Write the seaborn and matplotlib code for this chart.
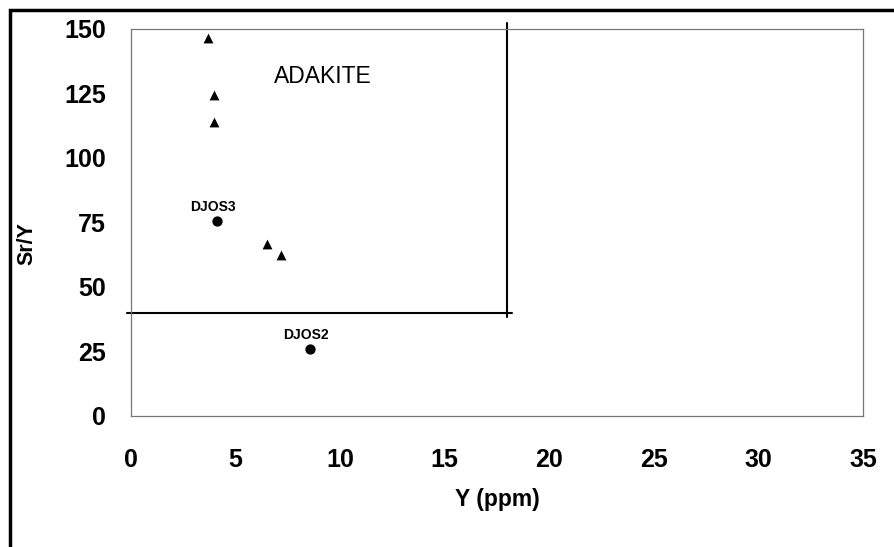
import pandas as pd
import seaborn as sns
import matplotlib.pyplot as plt
from matplotlib.patches import Rectangle

# adakite samples (triangles)
tri_y_ppm = [3.7, 3.95, 3.95, 6.5, 7.15]
tri_sr_y = [146.5, 124.5, 114, 66.5, 62.5]

# labelled samples (circles)
djos_names = ["DJOS3", "DJOS2"]
djos_y_ppm = [4.1, 8.55]
djos_sr_y = [75.5, 26]

# adakite field limits
adakite_y_max = 18
adakite_sr_y_min = 40

x_ticks = [0, 5, 10, 15, 20, 25, 30, 35]
y_ticks = [0, 25, 50, 75, 100, 125, 150]

df_tri = pd.DataFrame({"Y": tri_y_ppm, "SrY": tri_sr_y})
df_djos = pd.DataFrame({"name": djos_names, "Y": djos_y_ppm, "SrY": djos_sr_y})

sns.set_style("white")
plt.rcParams["font.family"] = ["Liberation Sans", "DejaVu Sans"]
plt.rcParams["text.color"] = "black"
plt.rcParams["axes.labelcolor"] = "black"
plt.rcParams["xtick.color"] = "black"
plt.rcParams["ytick.color"] = "black"

fig = plt.figure(figsize=(8.94, 5.47), dpi=100)
ax = fig.add_axes([0.1465, 0.2395, 0.8188, 0.7075])

sns.scatterplot(data=df_tri, x="Y", y="SrY", marker="^", s=50, color="black",
                edgecolor="black", linewidth=0, ax=ax, zorder=3)
sns.scatterplot(data=df_djos, x="Y", y="SrY", marker="o", s=55, color="black",
                edgecolor="black", linewidth=0, ax=ax, zorder=3)

for _, row in df_djos.iterrows():
    ax.annotate(row["name"], (row["Y"], row["SrY"]), xytext=(-3, 10),
                textcoords="offset points", ha="center", va="center",
                fontsize=10, fontweight="bold")

# adakite field boundary
ax.plot([-0.2, adakite_y_max + 0.2], [adakite_sr_y_min, adakite_sr_y_min],
        color="black", lw=1.5, clip_on=False, zorder=2)
ax.plot([adakite_y_max, adakite_y_max], [adakite_sr_y_min - 1.5, 152.5],
        color="black", lw=1.5, clip_on=False, zorder=2)
ax.text(9.15, 131.4, "ADAKITE", ha="center", va="center", fontsize=16.5)

ax.set_xlim(0, 35)
ax.set_ylim(0, 150)
ax.set_xticks(x_ticks)
ax.set_yticks(y_ticks)
ax.tick_params(axis="both", direction="out", length=4, width=0.8,
               labelsize=18, labelcolor="black")
ax.tick_params(axis="x", pad=19)
ax.tick_params(axis="y", pad=14)
for lab in ax.get_xticklabels() + ax.get_yticklabels():
    lab.set_fontweight("bold")

for side in ["left", "right", "top", "bottom"]:
    ax.spines[side].set_color("#777777")
    ax.spines[side].set_linewidth(0.9)
    ax.spines[side].set_visible(True)

ax.set_xlabel("Y (ppm)", fontsize=16.5, fontweight="bold")
ax.set_ylabel("Sr/Y", fontsize=15.5, fontweight="bold")
ax.xaxis.set_label_coords(0.5, -0.217)
ax.xaxis.label.set_va("center")
ax.yaxis.set_label_coords(-0.142, 0.447)
ax.yaxis.label.set_va("center")

# thick outer frame from the scanned page
fig.patches.append(Rectangle((10 / 894, -0.1), 1.2, (537 / 547) + 0.1,
                             transform=fig.transFigure, fill=False,
                             edgecolor="black", linewidth=2.5))

plt.savefig("out.png", dpi=100)
